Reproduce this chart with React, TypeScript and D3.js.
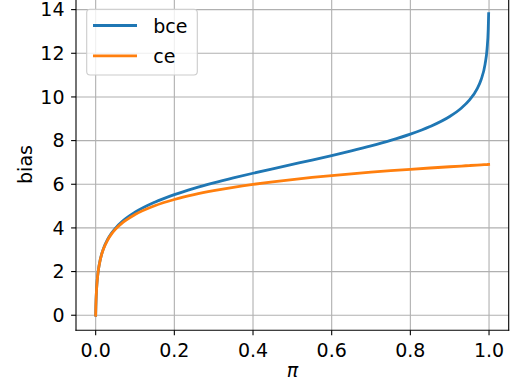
import React from "react";
import * as d3 from "d3";

const piValues = [0, 0.0005, 0.001, 0.002, 0.003, 0.004, 0.006, 0.008, 0.01, 0.015, 0.02, 0.03, 0.04, 0.05, 0.07, 0.1, 0.15, 0.2, 0.25, 0.3, 0.35, 0.4, 0.45, 0.5, 0.55, 0.6, 0.65, 0.7, 0.75, 0.8, 0.85, 0.9, 0.93, 0.95, 0.97, 0.98, 0.99, 0.995, 0.998, 0.999];
const bceValues = [0, 0.4056, 0.6936, 1.0999, 1.3886, 1.6126, 1.951, 2.2043, 2.4071, 2.7868, 3.0638, 3.4635, 3.7534, 3.9821, 4.3343, 4.7195, 5.1788, 5.5254, 5.8122, 6.0628, 6.2906, 6.5038, 6.7083, 6.9088, 7.1093, 7.3138, 7.5273, 7.7555, 8.0067, 8.2943, 8.6425, 9.1051, 9.4946, 9.8522, 10.3839, 10.7996, 11.5029, 12.201, 13.1204, 13.8145];
const ceValues = [0, 0.4051, 0.6926, 1.0979, 1.3856, 1.6086, 1.945, 2.1963, 2.397, 2.7717, 3.0436, 3.433, 3.7126, 3.9308, 4.2617, 4.6141, 5.0163, 5.3023, 5.5245, 5.7061, 5.8598, 5.993, 6.1105, 6.2156, 6.3108, 6.3975, 6.4775, 6.5515, 6.6204, 6.6849, 6.7454, 6.8025, 6.8353, 6.8565, 6.8773, 6.8876, 6.8977, 6.9027, 6.9058, 6.9068];
const seriesNames = ["bce", "ce"];
const seriesColors = ["#1f77b4", "#ff7f0e"];
const xTicks = [0, 0.2, 0.4, 0.6, 0.8, 1.0];
const yTicks = [0, 2, 4, 6, 8, 10, 12, 14];

const W = 522;
const H = 389;
const FONT = "DejaVu Sans, sans-serif";

export default function App() {
  const left = 76;
  const right = 508.7;
  const bottom = 330.3;
  const x = d3.scaleLinear().domain([-0.05, 1.05]).range([left, right]);
  const y = d3.scaleLinear().domain([-0.69, 14.5]).range([bottom, bottom - 15.19 * 21.83]);
  const top = y(14.5);

  const series = [bceValues, ceValues];
  const line = d3
    .line<number>()
    .x((_, i) => x(piValues[i]))
    .y((d) => y(d))
    .curve(d3.curveMonotoneX);

  return (
    <svg
      width={W}
      height={H}
      style={{ position: "absolute", left: 0, top: 0, background: "#fff" }}
      fontFamily={FONT}
    >
      <rect x={0} y={0} width={W} height={H} fill="#fff" />
      <defs>
        <clipPath id="plotclip">
          <rect x={left} y={top} width={right - left} height={bottom - top} />
        </clipPath>
      </defs>
      {/* grid */}
      {xTicks.map((t) => (
        <line key={"gx" + t} x1={x(t)} x2={x(t)} y1={top} y2={bottom} stroke="#b0b0b0" strokeWidth={1.1} />
      ))}
      {yTicks.map((t) => (
        <line key={"gy" + t} x1={left} x2={right} y1={y(t)} y2={y(t)} stroke="#b0b0b0" strokeWidth={1.1} />
      ))}
      {/* lines */}
      <g clipPath="url(#plotclip)">
        {series.map((s, i) => (
          <path key={seriesNames[i]} d={line(s) || ""} fill="none" stroke={seriesColors[i]} strokeWidth={2.8} strokeLinecap="square" strokeLinejoin="round" />
        ))}
      </g>
      {/* spines */}
      <line x1={left} x2={left} y1={top} y2={bottom} stroke="#000" strokeWidth={1.1} strokeLinecap="square" />
      <line x1={right} x2={right} y1={top} y2={bottom} stroke="#000" strokeWidth={1.1} strokeLinecap="square" />
      <line x1={left} x2={right} y1={bottom} y2={bottom} stroke="#000" strokeWidth={1.1} strokeLinecap="square" />
      <line x1={left} x2={right} y1={top} y2={top} stroke="#000" strokeWidth={1.1} strokeLinecap="square" />
      {/* x ticks */}
      {xTicks.map((t) => (
        <g key={"xt" + t}>
          <line x1={x(t)} x2={x(t)} y1={bottom} y2={bottom + 4.9} stroke="#000" strokeWidth={1.1} />
          <text x={x(t)} y={356.5} textAnchor="middle" fontSize={19} fill="#000">
            {t.toFixed(1)}
          </text>
        </g>
      ))}
      {/* y ticks */}
      {yTicks.map((t) => (
        <g key={"yt" + t}>
          <line x1={left - 4.9} x2={left} y1={y(t)} y2={y(t)} stroke="#000" strokeWidth={1.1} />
          <text x={64.5} y={y(t)} dy="0.36em" textAnchor="end" fontSize={19} fill="#000">
            {t}
          </text>
        </g>
      ))}
      {/* axis labels */}
      <text x={292.4} y={376.5} textAnchor="middle" fontSize={19} fontStyle="italic" fill="#000">
        π
      </text>
      <text transform={`translate(31.5, ${(top + bottom) / 2}) rotate(-90)`} textAnchor="middle" fontSize={19} fill="#000">
        bias
      </text>
      {/* legend */}
      <rect x={86.7} y={9.3} width={110.6} height={65.7} rx={3.5} fill="#fff" fillOpacity={0.8} stroke="#cccccc" strokeWidth={1.1} />
      {seriesNames.map((n, i) => (
        <g key={"lg" + n}>
          <line x1={93} x2={137} y1={25.5 + i * 30.3} y2={25.5 + i * 30.3} stroke={seriesColors[i]} strokeWidth={2.8} />
          <text x={153.3} y={33 + i * 30.3} fontSize={19} fill="#000">
            {n}
          </text>
        </g>
      ))}
    </svg>
  );
}
